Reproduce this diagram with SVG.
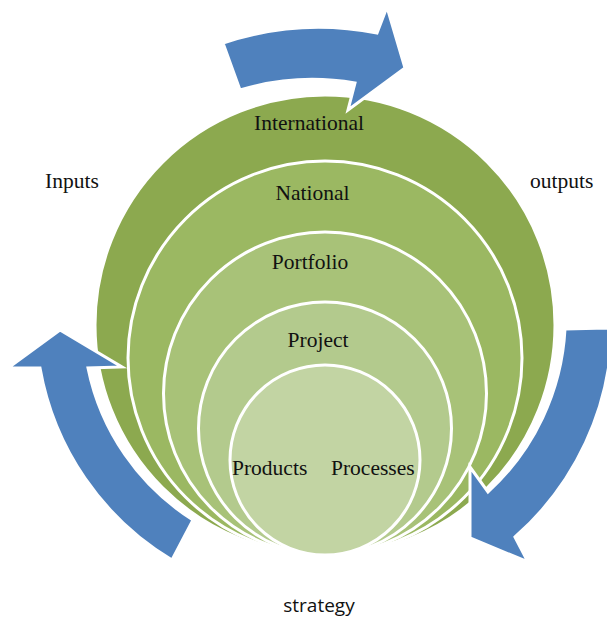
<svg xmlns="http://www.w3.org/2000/svg" width="607" height="618" viewBox="0 0 607 618">
<style>
.ring{stroke:#FFFFFF;stroke-width:3}
.arrow{fill:#4F81BD;stroke:#FFFFFF;stroke-width:3;stroke-linejoin:miter}
.t{font-family:"Liberation Serif","Times New Roman",serif;font-size:21.5px;fill:#111111}
.s{font-family:"Open Sans","Noto Sans",sans-serif;font-size:19px;fill:#111111}
</style>
<rect width="607" height="618" fill="#FFFFFF"/>
<g id="circles">
<g id="international"><circle class="ring" cx="325" cy="325" r="230" fill="#8CA94F"/></g>
<g id="national"><circle class="ring" cx="325" cy="358" r="197" fill="#9BB862"/></g>
<g id="portfolio"><circle class="ring" cx="325" cy="393.5" r="161.5" fill="#A8C278"/></g>
<g id="project"><circle class="ring" cx="325" cy="428.5" r="126.5" fill="#B3CA8D"/></g>
<g id="core"><circle class="ring" cx="325" cy="460" r="95" fill="#C2D4A3"/></g>
</g>
<g id="connectors">
<path id="arrow-top" class="arrow" d="M223,43 A303,303 0 0 1 377,33 L387,7 L405,68 L348,110 L355,83 A252,252 0 0 0 240,90 Z"/>
<path id="arrow-left" class="arrow" d="M172,560 A280,280 0 0 1 40,368 L8,368 L60,330 L122,367 L88,368 A235,235 0 0 0 193,520 Z"/>
<path id="arrow-right" class="arrow" d="M565,329 L612,328 A285,285 0 0 1 515,537 L528,562 L470,538 L470,467 L488,492 A238,238 0 0 0 565,329 Z"/>
</g>
<g id="labels">
<text class="t" x="309" y="130" text-anchor="middle">International</text>
<text class="t" x="312.5" y="200" text-anchor="middle">National</text>
<text class="t" x="310" y="269" text-anchor="middle">Portfolio</text>
<text class="t" x="318" y="347" text-anchor="middle">Project</text>
<text class="t" x="232" y="475">Products</text>
<text class="t" x="331" y="475">Processes</text>
<text class="t" x="45" y="188">Inputs</text>
<text class="t" x="530" y="188">outputs</text>
<text class="s" x="319" y="612" text-anchor="middle">strategy</text>
</g>
</svg>
